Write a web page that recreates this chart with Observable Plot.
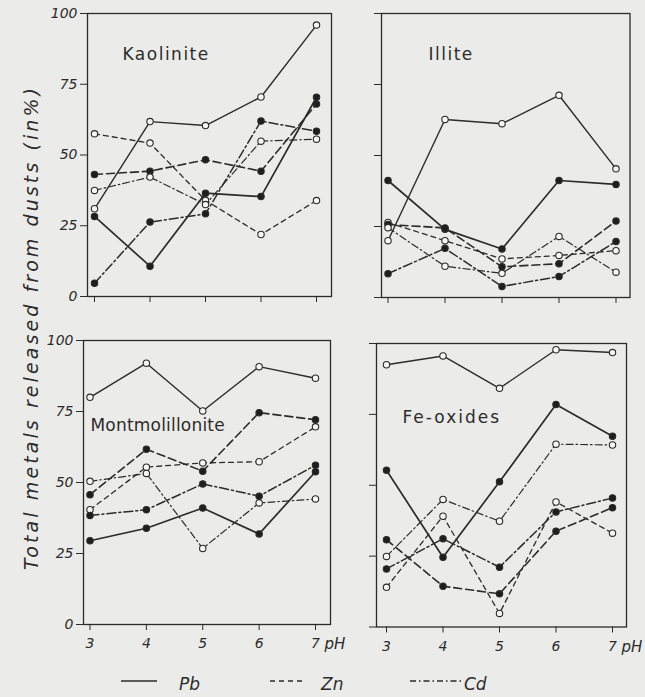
<!DOCTYPE html>
<html><head><meta charset="utf-8">
<script src="https://cdn.jsdelivr.net/npm/d3@7"></script>
<script src="https://cdn.jsdelivr.net/npm/@observablehq/plot@0.6"></script>
<style>
html,body{margin:0;padding:0;background:#ebebe9;}
#chart{position:relative;width:645px;height:697px;overflow:hidden;font-family:"DejaVu Sans",sans-serif;color:#2b2b2b;}
#chart svg{position:absolute;max-width:none;}
</style></head><body><div id="chart"></div>
<script>
// ---------- data ----------
const pH = [3, 4, 5, 6, 7];
const yTicks = [0, 25, 50, 75, 100];
const metals = ["Pb", "Zn", "Cd"];
const panelNames = ["Kaolinite", "Illite", "Montmolillonite", "Fe-oxides"];
const yTitle = "Total metals released from dusts (in%)";

// Kaolinite
const kaoPbOpen   = [31, 61.8, 60.4, 70.5, 95.9];
const kaoPbFilled = [28.3, 10.7, 36.5, 35.3, 70.4];
const kaoZnOpen   = [57.5, 54.2, 34, 21.9, 33.9];
const kaoZnFilled = [43.1, 44.3, 48.3, 44.3, 68];
const kaoCdOpen   = [37.5, 42.2, 32.5, 54.9, 55.6];
const kaoCdFilled = [4.7, 26.3, 29.2, 62, 58.4];
// Illite
const illPbOpen   = [20, 62.7, 61.2, 71.2, 45.3];
const illPbFilled = [41.2, 24, 17.1, 41.2, 39.8];
const illZnOpen   = [26.4, 20, 13.6, 14.8, 16.5];
const illZnFilled = [25.7, 24.5, 10.8, 11.9, 26.9];
const illCdOpen   = [24.6, 11, 8.5, 21.5, 8.9];
const illCdFilled = [8.4, 17.3, 3.9, 7.4, 19.7];
// Montmorillonite
const monPbOpen   = [80, 92, 75.2, 90.8, 86.7];
const monPbFilled = [29.5, 33.9, 41, 31.9, 53.8];
const monZnOpen   = [40.4, 55.4, 56.9, 57.3, 69.6];
const monZnFilled = [45.7, 61.7, 54, 74.6, 72.1];
const monCdOpen   = [50.4, 53.2, 26.8, 42.8, 44.2];
const monCdFilled = [38.4, 40.4, 49.5, 45.2, 56.1];
// Fe-oxides
const feoPbOpen   = [92.5, 95.6, 84.2, 97.8, 96.8];
const feoPbFilled = [55.3, 24.6, 51.2, 78.5, 67.3];
const feoZnOpen   = [14, 39.1, 4.8, 44.1, 33.1];
const feoZnFilled = [30.8, 14.4, 11.7, 33.8, 42.1];
const feoCdOpen   = [24.9, 45, 37.3, 64.5, 64.2];
const feoCdFilled = [20.5, 31.1, 21.1, 40.6, 45.5];

// ---------- build ----------
const seriesByPanel = [
  {Pb:[kaoPbOpen,kaoPbFilled], Zn:[kaoZnOpen,kaoZnFilled], Cd:[kaoCdOpen,kaoCdFilled]},
  {Pb:[illPbOpen,illPbFilled], Zn:[illZnOpen,illZnFilled], Cd:[illCdOpen,illCdFilled]},
  {Pb:[monPbOpen,monPbFilled], Zn:[monZnOpen,monZnFilled], Cd:[monCdOpen,monCdFilled]},
  {Pb:[feoPbOpen,feoPbFilled], Zn:[feoZnOpen,feoZnFilled], Cd:[feoCdOpen,feoCdFilled]}
];

const INK = "#2b2b2b";
const dashes = {Pb:[null,null], Zn:["5,4","8,4"], Cd:["7,3,1.5,3","9,3,2,3"]};
const widths = {Pb:[1.4,1.7], Zn:[1.3,1.6], Cd:[1.2,1.5]};

const layout = [
  {left:87,  right:331, top:13,  bottom:296,   x3:94,   x7:316, yLab:true,  xLab:false, dx:35, dy:46, ls:1.5, fs:17},
  {left:380.5,right:629,top:13,  bottom:297,   x3:387,  x7:615, yLab:false, xLab:false, dx:47, dy:46, ls:1.5, fs:17},
  {left:83,  right:330, top:340, bottom:624,   x3:89.5, x7:315, yLab:true,  xLab:true,  dx:7,  dy:90, ls:0.2, fs:17},
  {left:376, right:626, top:343, bottom:626.5, x3:386,  x7:612, yLab:false, xLab:true,  dx:26, dy:79, ls:2,   fs:17}
];

const chart = document.getElementById("chart");
const mL = 50, mR = 40, mT = 6, mB = 40;

layout.forEach((cfg, p) => {
  const W = cfg.right - cfg.left + mL + mR;
  const H = cfg.bottom - cfg.top + mT + mB;
  const marks = [];
  metals.forEach(m => {
    [0,1].forEach(f => {
      const vals = seriesByPanel[p][m][f];
      const rows = pH.map((x, i) => ({pH: x, v: vals[i]}));
      const lineOpts = {x:"pH", y:"v", stroke:INK, strokeWidth: widths[m][f]};
      if (dashes[m][f]) lineOpts.strokeDasharray = dashes[m][f];
      marks.push(Plot.line(rows, lineOpts));
    });
  });
  metals.forEach(m => {
    [0,1].forEach(f => {
      const vals = seriesByPanel[p][m][f];
      const rows = pH.map((x, i) => ({pH: x, v: vals[i]}));
      marks.push(Plot.dot(rows, {x:"pH", y:"v", r:3.2, stroke:INK, strokeWidth:1.1,
        fill: f ? "#1e1e1e" : "#f6f6f4"}));
    });
  });
  const plot = Plot.plot({
    width: W, height: H,
    marginLeft: mL, marginRight: mR, marginTop: mT, marginBottom: mB,
    style: {background:"transparent", color:INK, fontFamily:"DejaVu Sans, sans-serif", overflow:"visible"},
    x: {domain:[3,7], range:[cfg.x3 - cfg.left + mL, cfg.x7 - cfg.left + mL]},
    y: {domain:[0,100], range:[H - mB, mT]},
    marks: [
      Plot.frame({stroke:INK, strokeWidth:1.3}),
      Plot.axisY({ticks:yTicks, tickSize:7, tickPadding:3, label:null,
        tickFormat: cfg.yLab ? (d => d) : (() => ""), fontSize:14, fontStyle:"italic"}),
      Plot.axisX({ticks:pH, tickSize:6, tickPadding:8, label:null,
        tickFormat: cfg.xLab ? (d => d) : (() => ""), fontSize:14, fontStyle:"italic"}),
      ...(cfg.xLab ? [Plot.text(["pH"], {x: () => 7, text: d => d, frameAnchor:"bottom",
        dx: 9, dy: 14, textAnchor:"start", lineAnchor:"top", fontSize:15, fontStyle:"italic", fill:INK})] : []),
      ...marks,
      Plot.text([panelNames[p]], {text: d => d, frameAnchor:"top-left", dx:cfg.dx, dy:cfg.dy,
        textAnchor:"start", lineAnchor:"bottom", fontSize:cfg.fs, fill:INK})
    ]
  });
  plot.style.left = (cfg.left - mL) + "px";
  plot.style.top = (cfg.top - mT) + "px";
  d3.select(plot).selectAll("text").filter(function(){ return this.textContent === panelNames[p]; })
    .style("letter-spacing", cfg.ls + "px");
  chart.appendChild(plot);
});

// y title
const ys = d3.select(chart).append("svg").attr("width", 60).attr("height", 697)
  .style("left","0px").style("top","0px");
ys.append("text").attr("transform","translate(38,329) rotate(-90)")
  .attr("text-anchor","middle").attr("font-style","italic").attr("font-size",19)
  .attr("fill",INK).attr("textLength",482).attr("lengthAdjust","spacing").text(yTitle);

// legend
const legendItems = [
  {name:"Pb", x1:121, x2:157, tx:179, dash:null},
  {name:"Zn", x1:270, x2:305, tx:321, dash:"5,4"},
  {name:"Cd", x1:410, x2:461, tx:464, dash:"6,3,1.5,3"}
];
const lg = d3.select(chart).append("svg").attr("width",645).attr("height",40)
  .style("left","0px").style("top","660px");
lg.selectAll("line").data(legendItems).join("line")
  .attr("x1",d=>d.x1).attr("x2",d=>d.x2).attr("y1",21).attr("y2",21)
  .attr("stroke",INK).attr("stroke-width",1.4).attr("stroke-dasharray",d=>d.dash);
lg.selectAll("text").data(legendItems).join("text")
  .attr("x",d=>d.tx).attr("y",30).attr("font-size",17).attr("font-style","italic")
  .attr("fill",INK).text(d=>d.name);
</script></body></html>
